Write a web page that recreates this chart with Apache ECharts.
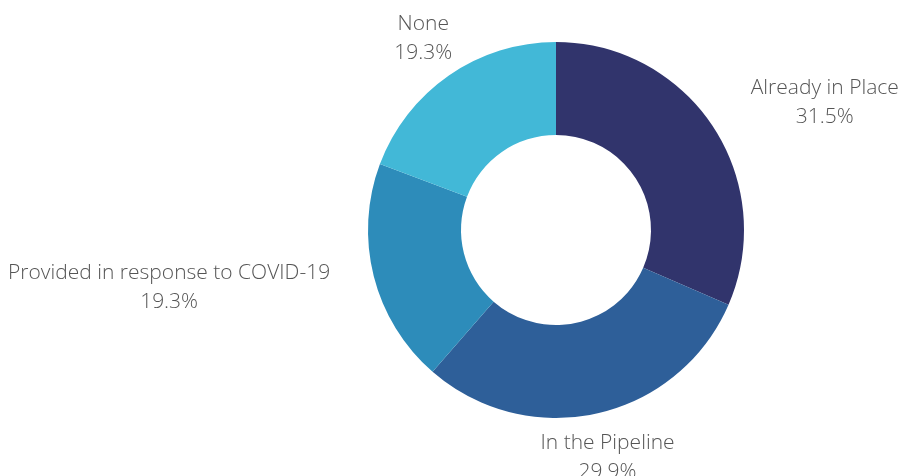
<!DOCTYPE html>
<html>
<head>
<meta charset="utf-8">
<script src="https://cdn.jsdelivr.net/npm/echarts@6/dist/echarts.min.js"></script>
<style>
  html, body { margin: 0; padding: 0; background: #ffffff; }
  #chart { width: 899px; height: 476px; }
</style>
</head>
<body>
<div id="chart"></div>
<script>
// Status categories and their shares (%)
const categories = ['Already in Place', 'In the Pipeline', 'Provided in response to COVID-19', 'None'];
const shares = [31.5, 29.9, 19.3, 19.3];
const colors = ['#31346c', '#2e5f99', '#2d8cba', '#42b8d7'];

const centerX = 556, centerY = 230;

const chart = echarts.init(document.getElementById('chart'), null, { renderer: 'canvas' });

const total = shares.reduce((a, b) => a + b, 0);
// mid angle of each slice, clockwise from 12 o'clock (degrees)
const midAngles = [];
let acc = 0;
shares.forEach(v => {
  const span = v / total * 360;
  midAngles.push(acc + span / 2);
  acc += span;
});

chart.setOption({
  animation: false,
  series: [{
    type: 'pie',
    center: [centerX, centerY],
    radius: [95, 188],
    startAngle: 90,
    clockwise: true,
    avoidLabelOverlap: false,
    data: categories.map((name, i) => ({
      name: name,
      value: shares[i],
      itemStyle: { color: colors[i] }
    })),
    label: {
      show: true,
      position: 'outside',
      formatter: p => p.name + '\n' + p.value.toFixed(1) + '%',
      fontFamily: '"Open Sans", sans-serif',
      fontWeight: 300,
      fontSize: 21,
      lineHeight: 29,
      color: '#555555',
      distanceToLabelLine: 0
    },
    labelLine: { show: false, length: 45, length2: 0 },
    emphasis: { disabled: true },
    labelLayout: function (params) {
      const r = params.labelRect;
      const a = midAngles[params.dataIndex] * Math.PI / 180;
      const onRight = Math.sin(a) > 0;
      // point where the label attaches to the slice
      const anchorX = onRight ? r.x : r.x + r.width;
      // near-vertical slices: centre the label on the anchor
      const nearVertical = Math.abs(Math.cos(a)) > Math.SQRT1_2;
      let cx;
      if (nearVertical) {
        cx = anchorX;
      } else {
        cx = onRight ? anchorX + r.width / 2 : anchorX - r.width / 2;
      }
      return { x: cx, y: r.y + r.height / 2, align: 'center', verticalAlign: 'middle' };
    }
  }]
});
</script>
</body>
</html>
